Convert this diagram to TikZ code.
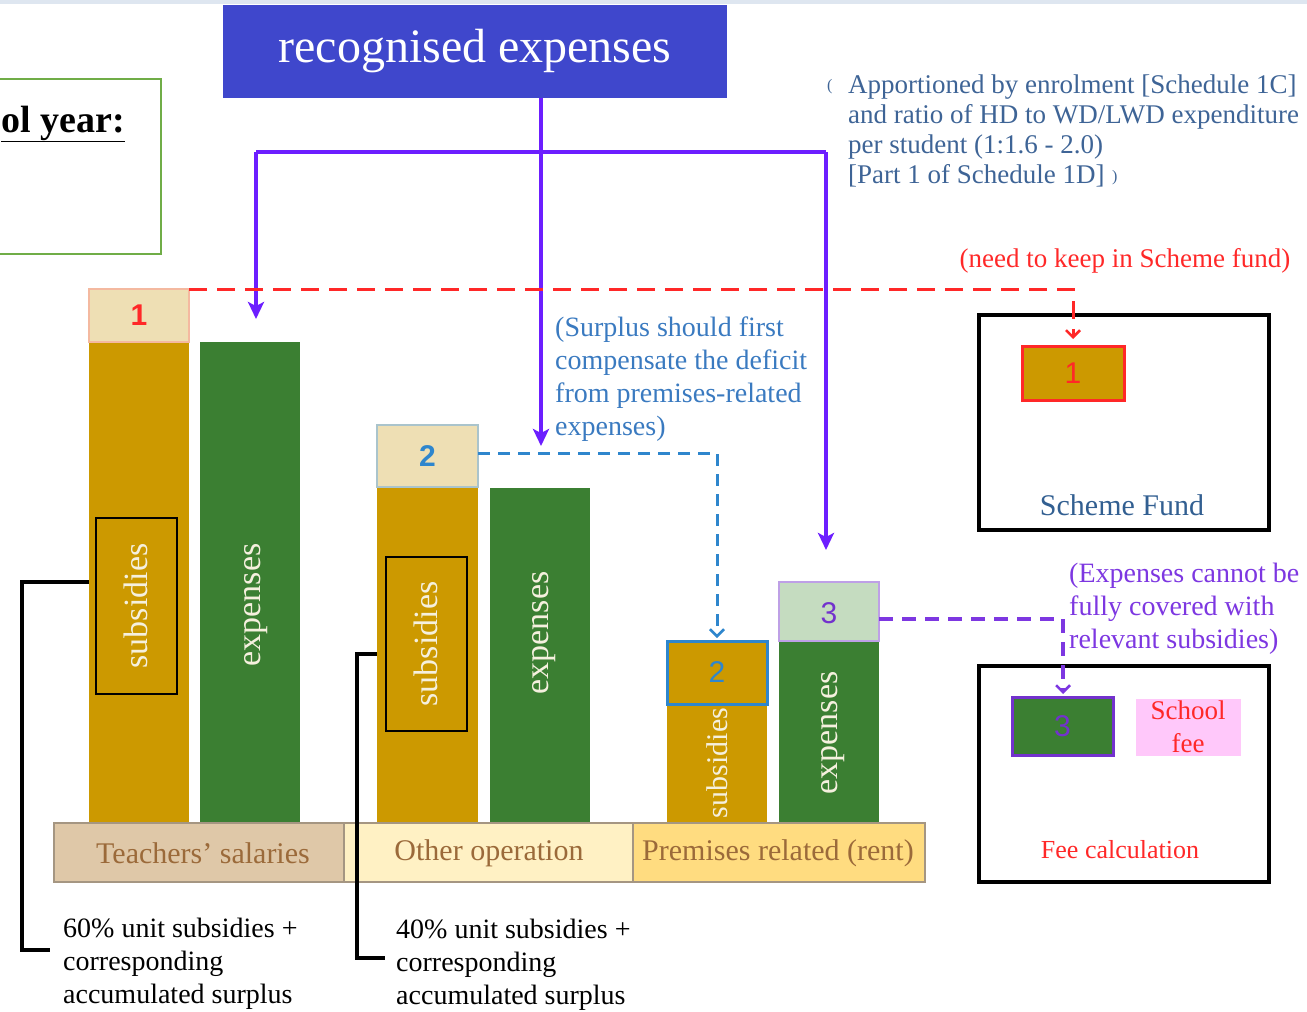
\documentclass[tikz,border=0pt]{standalone}
\usepackage{fontspec}
\setmainfont{Liberation Serif}
\newfontfamily\arialf{Liberation Sans}
\usetikzlibrary{arrows.meta}
\definecolor{gold}{RGB}{204,153,0}
\definecolor{bargreen}{RGB}{59,127,50}
\definecolor{captan}{RGB}{238,223,180}
\definecolor{capedge}{RGB}{244,185,160}
\definecolor{capblueedge}{RGB}{170,196,204}
\definecolor{capgreen}{RGB}{197,220,192}
\definecolor{cappurpedge}{RGB}{190,160,230}
\definecolor{titleblue}{RGB}{63,71,204}
\definecolor{vline}{RGB}{108,30,255}
\definecolor{redd}{RGB}{255,40,40}
\definecolor{dblue}{RGB}{46,134,205}
\definecolor{tblue}{RGB}{58,122,192}
\definecolor{steel}{RGB}{62,100,150}
\definecolor{dpurple}{RGB}{125,55,225}
\definecolor{numpurple}{RGB}{115,50,205}
\definecolor{basetan}{RGB}{223,200,168}
\definecolor{basecream}{RGB}{255,241,196}
\definecolor{baseyellow}{RGB}{255,220,128}
\definecolor{baseedge}{RGB}{165,150,130}
\definecolor{basetext}{RGB}{155,106,58}
\definecolor{boxgreen}{RGB}{112,173,71}
\definecolor{pinkbg}{RGB}{255,200,250}
\definecolor{vtext}{RGB}{245,240,222}
\definecolor{topband}{RGB}{222,230,240}
\definecolor{sfblue}{RGB}{50,95,145}
\begin{document}
\begin{tikzpicture}[x=1pt,y=-1pt,
  blk/.style={rectangle, inner sep=0pt, outer sep=0pt, anchor=north west},
  vtxt/.style={rotate=90, text=vtext, inner sep=0pt},
  numtxt/.style={font=\arialf\fontsize{30}{30}\selectfont},
  capnum/.style={font=\arialf\bfseries\fontsize{30}{30}\selectfont},
  pline/.style={vline, line width=4.5pt},
  parrow/.style={vline, line width=4.5pt, -{Stealth[length=17pt,width=16pt,inset=4pt]}},
  rdash/.style={redd, line width=3pt, dash pattern=on 18pt off 10pt, -{Straight Barb[length=7pt,width=14pt,line width=2.5pt]}},
  bdash/.style={dblue, line width=3pt, dash pattern=on 12pt off 8pt, -{Straight Barb[length=7pt,width=14pt,line width=2.5pt]}},
  udash/.style={dpurple, line width=3.5pt, dash pattern=on 14pt off 9pt, -{Straight Barb[length=7pt,width=14pt,line width=2.5pt]}},
  bracket/.style={black, line width=4pt},
  basetxt/.style={text=basetext, font=\fontsize{30}{30}\selectfont},
  note/.style={align=left, inner sep=0pt, font=\fontsize{28}{33}\selectfont}
]
\useasboundingbox (0,0) rectangle (1307,1012);
\fill[topband] (0,0) rectangle (1307,4);

% left partial box
\draw[boxgreen, line width=2.5pt] (-10,79) rectangle (161,254);
\node[anchor=base west, inner sep=0pt, font=\bfseries\fontsize{38}{38}\selectfont] (yr) at (1,132) {\underline{ol year:}};

% title
\node[blk, fill=titleblue, minimum width=504pt, minimum height=93pt, text=white, font=\fontsize{48}{48}\selectfont] (title) at (223,5) {recognised expenses};

% top-right note
\node[anchor=west, inner sep=0pt, text=steel, font=\fontsize{16}{16}\selectfont] (lp) at (827,87) {(};
\node[anchor=north west, note, text=steel, font=\fontsize{27}{30}\selectfont] (appnote) at (848,75) {Apportioned by enrolment {[}Schedule 1C{]}\\and ratio of HD to WD/LWD expenditure\\per student (1:1.6 - 2.0)\\{[}Part 1 of Schedule 1D{]}};
\node[anchor=west, inner sep=0pt, text=steel, font=\fontsize{16}{16}\selectfont] (rp) at (1112,178) {)};

% bars group 1
\node[blk, fill=gold, minimum width=100pt, minimum height=481pt] (s1) at (89,342) {};
\node[blk, fill=captan, draw=capedge, line width=1.5pt, minimum width=100pt, minimum height=53pt] (c1) at (89,289) {};
\node[capnum, text=redd] (n1) at (c1.center) {1};
\node[blk, fill=bargreen, minimum width=100pt, minimum height=481pt] (e1) at (200,342) {};
\node[blk, draw=black, line width=2pt, minimum width=81pt, minimum height=176pt] (sb1) at (96,518) {};
\node[vtxt, font=\fontsize{34}{34}\selectfont] (st1) at ([xshift=-1pt]sb1.center) {subsidies};
\node[vtxt, font=\fontsize{34}{34}\selectfont] (et1) at (256,605) {expenses};

% bars group 2
\node[blk, fill=gold, minimum width=101pt, minimum height=336pt] (s2) at (377,487) {};
\node[blk, fill=captan, draw=capblueedge, line width=1.5pt, minimum width=101pt, minimum height=62pt] (c2) at (377,425) {};
\node[capnum, text=dblue] (n2) at (c2.center) {2};
\node[blk, fill=bargreen, minimum width=100pt, minimum height=335pt] (e2) at (490,488) {};
\node[blk, draw=black, line width=2pt, minimum width=81pt, minimum height=174pt] (sb2) at (386,557) {};
\node[vtxt, font=\fontsize{34}{34}\selectfont] (st2) at ([xshift=-1pt]sb2.center) {subsidies};
\node[vtxt, font=\fontsize{34}{34}\selectfont] (et2) at (544,633) {expenses};

% bars group 3
\node[blk, fill=gold, minimum width=100pt, minimum height=119pt] (s3) at (667,704) {};
\node[blk, fill=gold, draw=dblue, line width=3pt, minimum width=100pt, minimum height=63pt] (d2) at (667,641) {};
\node[numtxt, text=dblue] (n2b) at (d2.center) {2};
\node[vtxt, font=\fontsize{30}{30}\selectfont] (st3) at (717,763) {subsidies};
\node[blk, fill=bargreen, minimum width=100pt, minimum height=182pt] (e3) at (779,641) {};
\node[blk, fill=capgreen, draw=cappurpedge, line width=1.5pt, minimum width=100pt, minimum height=59pt] (c3) at (779,582) {};
\node[numtxt, text=numpurple] (n3) at ([yshift=-2pt]c3.center) {3};
\node[vtxt, font=\fontsize{34}{34}\selectfont] (et3) at (833,733) {expenses};

% base
\node[blk, fill=basetan, draw=baseedge, line width=2.5pt, minimum width=290pt, minimum height=59pt] (b1) at (54,823) {};
\node[blk, fill=basecream, draw=baseedge, line width=2.5pt, minimum width=289pt, minimum height=59pt] (b2) at (344,823) {};
\node[blk, fill=baseyellow, draw=baseedge, line width=2.5pt, minimum width=292pt, minimum height=59pt] (b3) at (633,823) {};
\node[basetxt] (bt1) at (203,853) {Teachers’ salaries};
\node[basetxt] (bt2) at (489,853) {Other operation};
\node[basetxt] (bt3) at (778,853) {Premises related (rent)};

% purple connectors from title
\coordinate (pj) at (541,152);
\coordinate (pl) at (256,152);
\coordinate (pr) at (826,152);
\coordinate (t1) at (256,319);
\coordinate (t2) at (541,446);
\coordinate (t3) at (826,550);
\draw[pline] (title.south -| pj) -- (pj);
\draw[pline] (pl) -- (pr);
\draw[parrow] (pl) -- (t1);
\draw[parrow] (pj) -- (t2);
\draw[parrow] (pr) -- (t3);

% surplus note
\node[note, anchor=west, text=tblue] (surp) at (555,379) {(Surplus should first\\compensate the deficit\\from premises-related\\expenses)};

% scheme fund box
\node[blk, draw=black, line width=3.5pt, minimum width=290pt, minimum height=215pt] (sf) at (979,315) {};
\node[blk, fill=gold, draw=redd, line width=3pt, minimum width=102pt, minimum height=54pt] (sf1) at (1022,346) {};
\node[numtxt, text=redd] (n1b) at (sf1.center) {1};
\node[text=sfblue, font=\fontsize{30}{30}\selectfont] (sft) at (1122,505) {Scheme Fund};
\node[text=redd, font=\fontsize{27}{27}\selectfont] (keep) at (1125,261) {(need to keep in Scheme fund)};

% red dashed
\coordinate (rc) at (1073,289);
\draw[rdash] (c1.north east) -- (rc) -- ([yshift=7pt]sf1.north -| rc);

% blue dashed
\coordinate (bc) at (717,453);
\draw[bdash] (c2.east |- bc) -- (bc) -- ([yshift=3pt]d2.north);

% fee calculation box
\node[blk, draw=black, line width=3.5pt, minimum width=290pt, minimum height=216pt] (fc) at (979,666) {};
\node[blk, fill=bargreen, draw=numpurple, line width=3pt, minimum width=101pt, minimum height=58pt] (fc3) at (1012,697) {};
\node[numtxt, text=numpurple] (n3b) at (fc3.center) {3};
\node[fill=pinkbg, minimum width=105pt, minimum height=57pt, inner sep=0pt, align=center, text=redd, font=\fontsize{27}{33}\selectfont] (sfee) at (1188,727) {School\\fee};
\node[text=redd, font=\fontsize{26}{26}\selectfont] (fct) at (1120,850) {Fee calculation};
\node[note, anchor=west, text=dpurple] (cannot) at (1069,609) {(Expenses cannot be\\fully covered with\\relevant subsidies)};

% purple dashed
\coordinate (uc) at (1063,619);
\draw[udash] (c3.east |- uc) -- (uc) -- ([yshift=3pt]fc3.north -| uc);

% black brackets
\coordinate (k1a) at (22,582);
\coordinate (k1b) at (22,950);
\coordinate (k1c) at (50,950);
\draw[bracket] (s1.west |- k1a) -- (k1a) -- (k1b) -- (k1c);
\coordinate (k2a) at (357,654);
\coordinate (k2b) at (357,958);
\coordinate (k2c) at (385,958);
\draw[bracket] (s2.west |- k2a) -- (k2a) -- (k2b) -- (k2c);

% bottom notes
\node[note, anchor=west] (n60) at (63,964) {60\% unit subsidies +\\corresponding\\accumulated surplus};
\node[note, anchor=west] (n40) at (396,965) {40\% unit subsidies +\\corresponding\\accumulated surplus};
\end{tikzpicture}
\end{document}
